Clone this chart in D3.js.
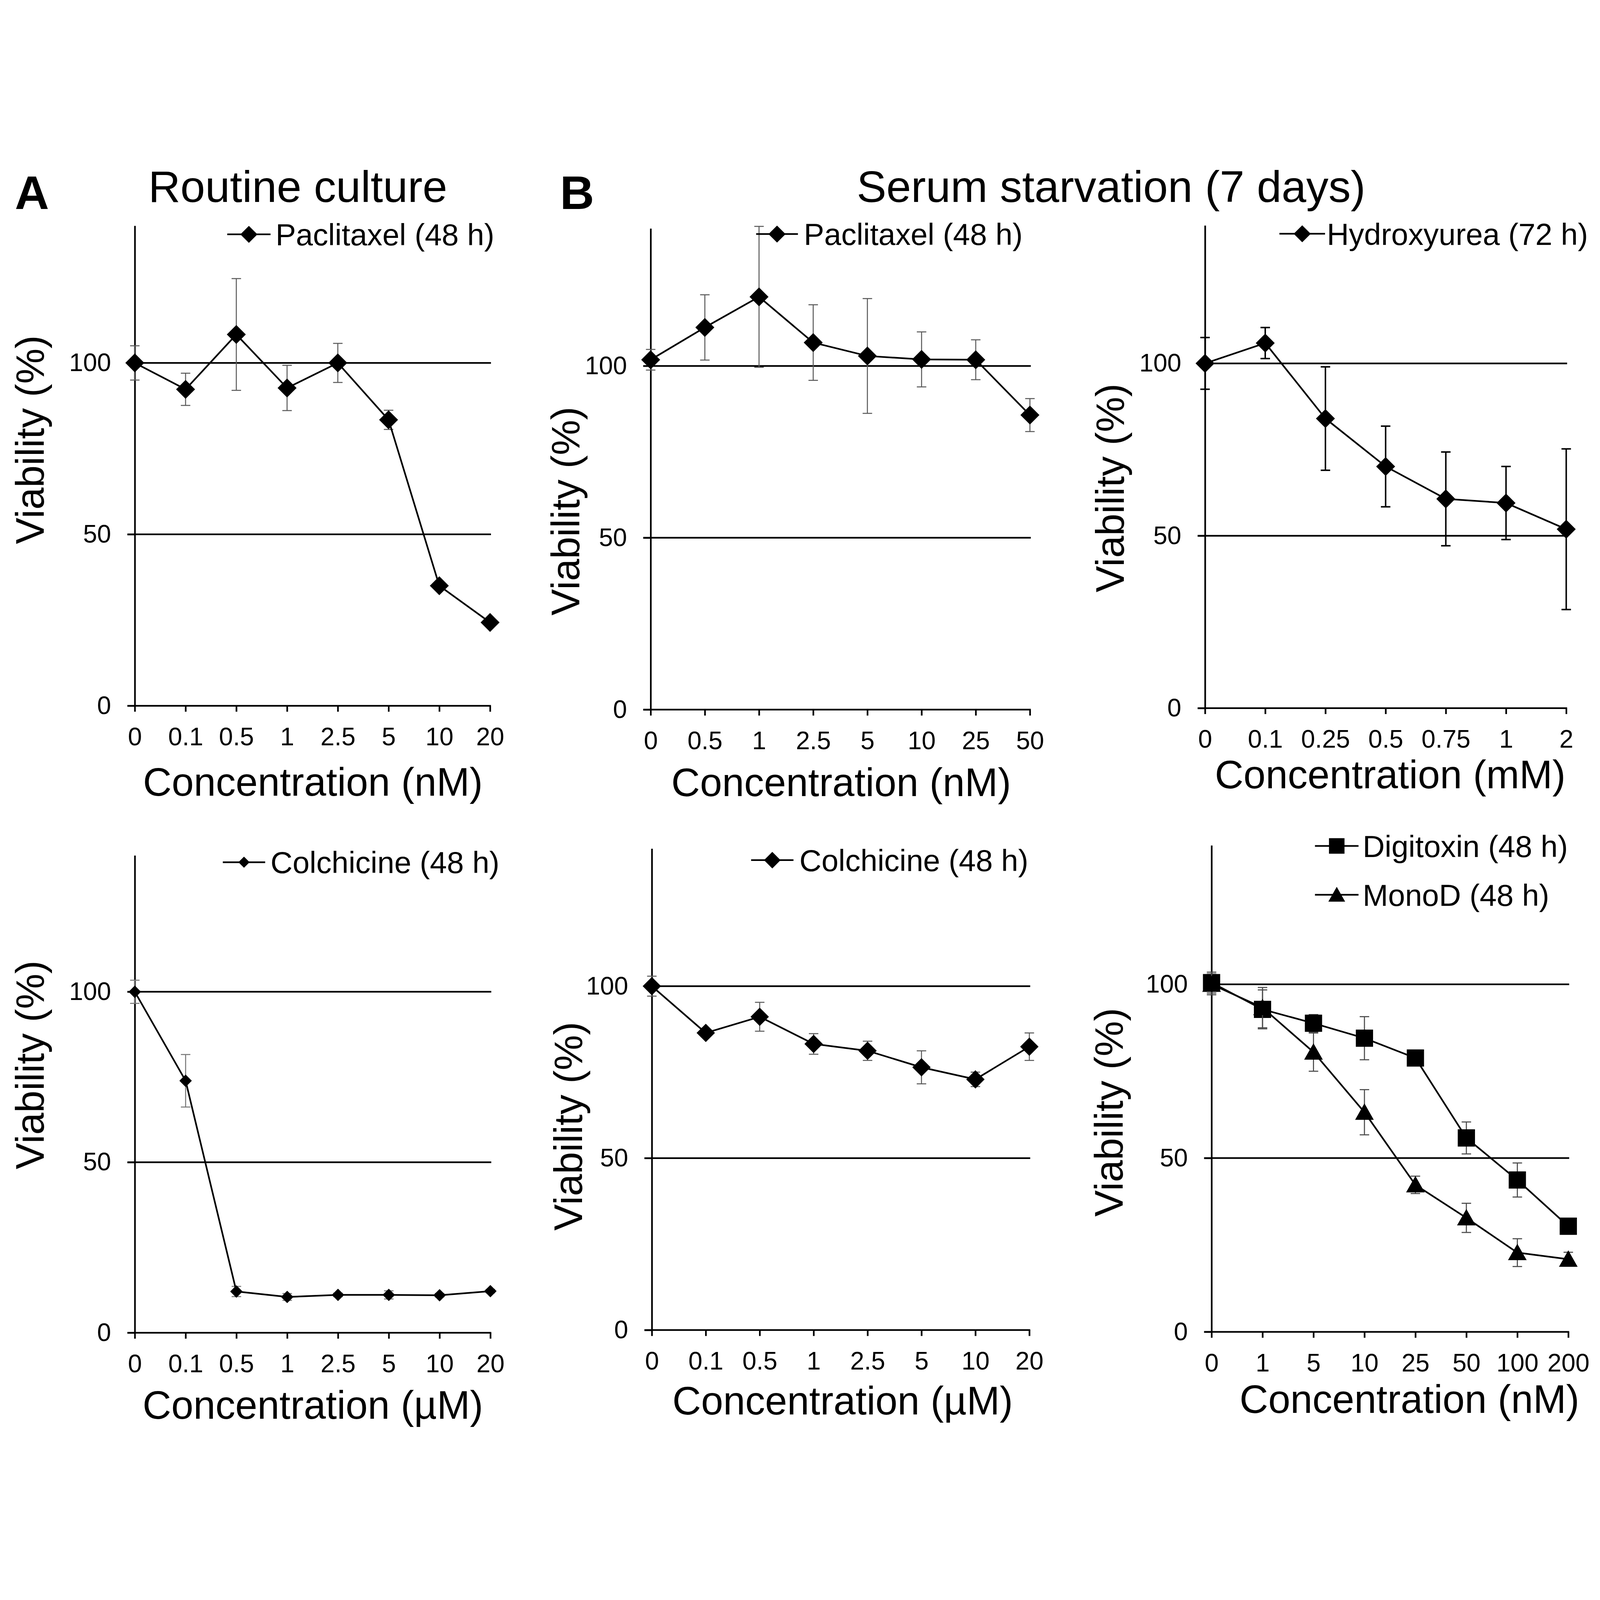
<!DOCTYPE html>
<html><head><meta charset="utf-8">
<script src="https://cdn.jsdelivr.net/npm/d3@7"></script>
<style>html,body{margin:0;padding:0;width:100%;height:100%;overflow:hidden;background:#fff}svg{display:block;width:100vw;height:100vh}</style>
</head><body>
<svg id="c" viewBox="0 0 5400 4334" preserveAspectRatio="xMidYMid meet"></svg>
<script>
// ---------- data ----------
const concRoutinePacl = ["0","0.1","0.5","1","2.5","5","10","20"];
const viabRoutinePacl = [100,92.3,108.3,92.7,100,83.4,35,24.3];
const errRoutinePacl  = [5,4.7,16.3,6.6,5.7,2.8,1,1];

const concStarvPacl = ["0","0.5","1","2.5","5","10","25","50"];
const viabStarvPacl = [101.8,111.2,120.1,106.8,102.9,101.9,101.8,85.7];
const errStarvPacl  = [3,9.5,20.5,11,16.7,8,5.8,4.8];

const concHU = ["0","0.1","0.25","0.5","0.75","1","2"];
const viabHU = [100,105.9,84,70.1,60.7,59.5,51.9];
const errHU  = [7.5,4.5,15,11.7,13.6,10.6,23.3];

const concRoutineColch = ["0","0.1","0.5","1","2.5","5","10","20"];
const viabRoutineColch = [100,73.9,12.1,10.5,11.1,11.1,11,12.2];
const errRoutineColch  = [3.4,7.7,1.5,1,0.5,1.2,0.5,0.5];

const concStarvColch = ["0","0.1","0.5","1","2.5","5","10","20"];
const viabStarvColch = [100,86.4,91.1,83.2,81.2,76.4,72.9,82.4];
const errStarvColch  = [2.9,1,4.2,3,2.8,4.8,2.1,4];

const concCardiac = ["0","1","5","10","25","50","100","200"];
const viabDigitoxin = [100.5,92.8,88.8,84.5,78.8,55.8,43.7,30.4];
const errDigitoxin  = [3,5.6,2.5,6.2,1.5,4.6,4.9,1.5];
const viabMonoD = [100,93.3,80.5,63.2,42.3,32.8,22.8,20.9];
const errMonoD  = [3,5.8,5.5,6.5,2.5,4.2,4,2];

const yTicks = [0,50,100];
const yMax = 140;

// ---------- layout ----------
const FONT = "'Liberation Sans', Arial, Helvetica, sans-serif";
const panels = [
  {cats:concRoutinePacl, unit:"nM", series:[{name:"Paclitaxel (48 h)", v:viabRoutinePacl, e:errRoutinePacl, m:"diamond"}],
   f:{x0:455,x1:1654,y0:1849,yT:229}, r:32, eb:"#5a5a5a", ebw:3.4, leg:[{x1:767,x2:913,y:258,tx:930}], yt:{x:147,y:951}, xt:{x:1056,y:2152}},
  {cats:concStarvPacl, unit:"nM", series:[{name:"Paclitaxel (48 h)", v:viabStarvPacl, e:errStarvPacl, m:"diamond"}],
   f:{x0:2196,x1:3476,y0:1862,yT:238}, r:32, eb:"#5a5a5a", ebw:3.4, leg:[{x1:2552,x2:2693,y:257,tx:2713}], yt:{x:1955,y:1192}, xt:{x:2839,y:2154}},
  {cats:concHU, unit:"mM", series:[{name:"Hydroxyurea (72 h)", v:viabHU, e:errHU, m:"diamond"}],
   f:{x0:4067,x1:5286,y0:1857,yT:228}, r:32, eb:"#000", ebw:5, leg:[{x1:4318,x2:4472,y:256,tx:4478}], yt:{x:3793,y:1114}, xt:{x:4692,y:2128}},
  {cats:concRoutineColch, unit:"µM", series:[{name:"Colchicine (48 h)", v:viabRoutineColch, e:errRoutineColch, m:"diamond"}],
   f:{x0:455,x1:1655,y0:3965,yT:2354}, r:21, eb:"#777", ebw:3.4, leg:[{x1:752,x2:895,y:2377,tx:913}], yt:{x:147,y:3061}, xt:{x:1056,y:4255}},
  {cats:concStarvColch, unit:"µM", series:[{name:"Colchicine (48 h)", v:viabStarvColch, e:errStarvColch, m:"diamond"}],
   f:{x0:2200,x1:3474,y0:3956,yT:2331}, r:31, eb:"#5a5a5a", ebw:3.4, leg:[{x1:2535,x2:2678,y:2370,tx:2698}], yt:{x:1965,y:3268}, xt:{x:2844,y:4241}},
  {cats:concCardiac, unit:"nM", series:[
      {name:"Digitoxin (48 h)", v:viabDigitoxin, e:errDigitoxin, m:"square"},
      {name:"MonoD (48 h)", v:viabMonoD, e:errMonoD, m:"triangle"}],
   f:{x0:4089,x1:5293,y0:3962,yT:2320}, r:30, eb:"#4a4a4a", ebw:3.6, leg:[{x1:4438,x2:4585,y:2322,tx:4599},{x1:4438,x2:4585,y:2487,tx:4599}], yt:{x:3789,y:3221}, xt:{x:4757,y:4235}}
];

function marker(type, r){
  if(type==="square"){ const s=r*0.97; return `M${-s},${-s}H${s}V${s}H${-s}Z`; }
  if(type==="triangle"){ return `M0,${-r*1.0}L${r*1.05},${r*0.85}L${-r*1.05},${r*0.85}Z`; }
  return `M0,${-r}L${r},0L0,${r}L${-r},0Z`;
}

const svg = d3.select("#c");
svg.append("rect").attr("width",5400).attr("height",4334).attr("fill","#fff");

// headings
svg.append("text").attr("x",50).attr("y",172).attr("font-family",FONT).attr("font-weight","bold").attr("font-size",160).text("A");
svg.append("text").attr("x",1890).attr("y",172).attr("font-family",FONT).attr("font-weight","bold").attr("font-size",160).text("B");
svg.append("text").attr("x",1005).attr("y",148).attr("text-anchor","middle").attr("font-family",FONT).attr("font-size",150).text("Routine culture");
svg.append("text").attr("x",3750).attr("y",148).attr("text-anchor","middle").attr("font-family",FONT).attr("font-size",150).text("Serum starvation (7 days)");

const LW = 5.6;
panels.forEach(p=>{
  const x = d3.scalePoint().domain(p.cats).range([p.f.x0,p.f.x1]).padding(0);
  const y = d3.scaleLinear().domain([0,yMax]).range([p.f.y0,p.f.yT]);
  const g = svg.append("g");

  // gridlines at 50 and 100
  g.selectAll("line.grid").data(yTicks.filter(t=>t>0)).join("line")
    .attr("x1",p.f.x0-25).attr("x2",p.f.x1+3).attr("y1",d=>y(d)).attr("y2",d=>y(d))
    .attr("stroke","#000").attr("stroke-width",LW);

  // y axis
  const ya = g.append("g").attr("transform",`translate(${p.f.x0},0)`)
    .call(d3.axisLeft(y).tickValues(yTicks).tickSize(25).tickSizeOuter(0).tickPadding(55).tickFormat(d3.format("d")));
  // x axis
  const xa = g.append("g").attr("transform",`translate(0,${p.f.y0})`)
    .call(d3.axisBottom(x).tickSize(20).tickSizeOuter(0).tickPadding(53));
  [ya,xa].forEach(a=>{
    a.selectAll("path,line").attr("stroke","#000").attr("stroke-width",LW);
    a.selectAll("text").attr("font-family",FONT).attr("font-size",85).attr("fill","#000");
  });
  xa.select("path.domain").attr("d",`M${p.f.x0-25},0H${p.f.x1+3}`);

  // axis titles
  g.append("text").attr("transform",`translate(${p.yt.x},${p.yt.y}) rotate(-90)`)
    .attr("text-anchor","middle").attr("font-family",FONT).attr("font-size",134).text("Viability (%)");
  g.append("text").attr("x",p.xt.x).attr("y",p.xt.y).attr("text-anchor","middle")
    .attr("font-family",FONT).attr("font-size",134).text(`Concentration (${p.unit})`);

  // series
  p.series.forEach((s,si)=>{
    const pts = p.cats.map((c,i)=>({c, v:s.v[i], e:s.e[i]}));
    const eb = g.append("g").attr("stroke",p.eb).attr("stroke-width",p.ebw);
    pts.forEach(d=>{
      const yt=y(d.v+d.e), yb=y(d.v-d.e), cx=x(d.c), cw=16;
      eb.append("line").attr("x1",cx).attr("x2",cx).attr("y1",yt).attr("y2",yb);
      eb.append("line").attr("x1",cx-cw).attr("x2",cx+cw).attr("y1",yt).attr("y2",yt);
      eb.append("line").attr("x1",cx-cw).attr("x2",cx+cw).attr("y1",yb).attr("y2",yb);
    });
    g.append("path").datum(pts)
      .attr("d",d3.line().x(d=>x(d.c)).y(d=>y(d.v)))
      .attr("fill","none").attr("stroke","#000").attr("stroke-width",LW).attr("stroke-linejoin","round");
    g.selectAll(null).data(pts).join("path")
      .attr("transform",d=>`translate(${x(d.c)},${y(d.v)})`)
      .attr("d",marker(s.m,p.r)).attr("fill","#000");

    // legend
    const L = p.leg[si];
    g.append("line").attr("x1",L.x1).attr("x2",L.x2).attr("y1",L.y).attr("y2",L.y).attr("stroke","#000").attr("stroke-width",LW);
    g.append("path").attr("transform",`translate(${(L.x1+L.x2)/2},${L.y})`).attr("d",marker(s.m,p.r*0.9)).attr("fill","#000");
    g.append("text").attr("x",L.tx).attr("y",L.y).attr("dy","0.36em").attr("font-family",FONT).attr("font-size",103).text(s.name);
  });
});
</script>
</body></html>
